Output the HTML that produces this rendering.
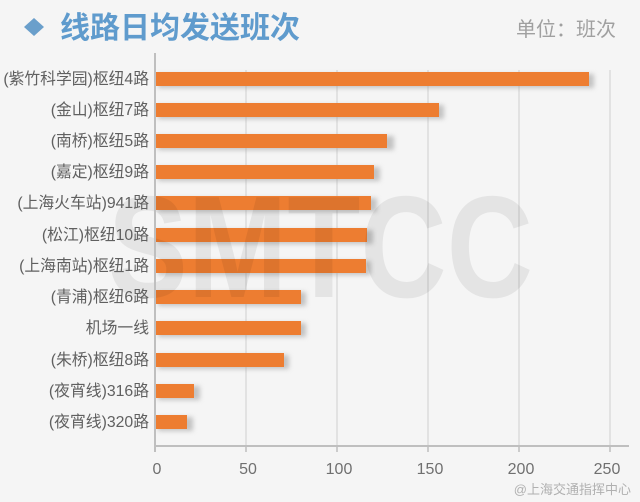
<!DOCTYPE html>
<html><head><meta charset="utf-8"><style>
html,body{margin:0;padding:0;background:#f5f5f5;}
svg{display:block;font-family:"Liberation Sans","Noto Sans CJK SC",sans-serif;}
</style></head><body>
<svg width="640" height="502" viewBox="0 0 640 502" xmlns="http://www.w3.org/2000/svg">
<defs><filter id="sh" x="-10%" y="-50%" width="130%" height="200%"><feGaussianBlur stdDeviation="2.5"/></filter></defs>
<rect width="640" height="502" fill="#f5f5f5"/>
<polygon points="34,18 44,27 34,36 24,27" fill="#6a9fcb"/>
<text x="60" y="38" font-size="30" font-weight="bold" fill="#5f9bcd">线路日均发送班次</text>
<text x="616" y="36" font-size="20" fill="#a0a0a0" text-anchor="end">单位：班次</text>
<g stroke="#dcdcdc" stroke-width="1.5">
<line x1="246" y1="70" x2="246" y2="446"/><line x1="337" y1="70" x2="337" y2="446"/>
<line x1="428" y1="70" x2="428" y2="446"/><line x1="519" y1="70" x2="519" y2="446"/>
<line x1="610" y1="70" x2="610" y2="446"/>
</g>
<g fill="#9a9a9a" opacity="0.55" filter="url(#sh)">
<rect x="158" y="74" width="436" height="14"/><rect x="158" y="105" width="286" height="14"/>
<rect x="158" y="136" width="236" height="14"/><rect x="158" y="167" width="222" height="14"/>
<rect x="158" y="198" width="219" height="14"/><rect x="158" y="230" width="215" height="14"/>
<rect x="158" y="261" width="213" height="14"/><rect x="158" y="292" width="148" height="14"/>
<rect x="158" y="323" width="148" height="14"/><rect x="158" y="355" width="131" height="14"/>
<rect x="158" y="386" width="42" height="14"/><rect x="158" y="417" width="35" height="14"/>
</g>
<g fill="#ed7d31">
<rect x="156" y="72" width="433" height="14"/><rect x="156" y="103" width="283" height="14"/>
<rect x="156" y="134" width="231" height="14"/><rect x="156" y="165" width="218" height="14"/>
<rect x="156" y="196" width="215" height="14"/><rect x="156" y="228" width="211" height="14"/>
<rect x="156" y="259" width="210" height="14"/><rect x="156" y="290" width="145" height="14"/>
<rect x="156" y="321" width="145" height="14"/><rect x="156" y="353" width="128" height="14"/>
<rect x="156" y="384" width="38" height="14"/><rect x="156" y="415" width="31" height="14"/>
</g>
<text x="108" y="297" font-size="145" font-weight="bold" fill="#000" fill-opacity="0.065" textLength="425" lengthAdjust="spacingAndGlyphs">SMTCC</text>
<line x1="155" y1="53" x2="155" y2="452" stroke="#bfbfbf" stroke-width="2"/>
<line x1="155" y1="446" x2="629" y2="446" stroke="#bfbfbf" stroke-width="2"/>
<g stroke="#bfbfbf" stroke-width="1.5">
<line x1="246" y1="446" x2="246" y2="452"/><line x1="337" y1="446" x2="337" y2="452"/>
<line x1="428" y1="446" x2="428" y2="452"/><line x1="519" y1="446" x2="519" y2="452"/>
<line x1="610" y1="446" x2="610" y2="452"/>
</g>
<g font-size="16" fill="#707070" text-anchor="middle">
<text x="157" y="474">0</text><text x="248" y="474">50</text><text x="339" y="474">100</text>
<text x="430" y="474">150</text><text x="521" y="474">200</text><text x="607" y="474">250</text>
</g>
<g font-size="15.8" fill="#606060" text-anchor="end">
<text x="149" y="84">(紫竹科学园)枢纽4路</text>
<text x="149" y="115">(金山)枢纽7路</text>
<text x="149" y="146">(南桥)枢纽5路</text>
<text x="149" y="177">(嘉定)枢纽9路</text>
<text x="149" y="208">(上海火车站)941路</text>
<text x="149" y="240">(松江)枢纽10路</text>
<text x="149" y="271">(上海南站)枢纽1路</text>
<text x="149" y="302">(青浦)枢纽6路</text>
<text x="149" y="333">机场一线</text>
<text x="149" y="365">(朱桥)枢纽8路</text>
<text x="149" y="396">(夜宵线)316路</text>
<text x="149" y="427">(夜宵线)320路</text>
</g>
<text x="631" y="494" font-size="13" fill="#b0b0b0" text-anchor="end">@上海交通指挥中心</text>
</svg>
</body></html>
